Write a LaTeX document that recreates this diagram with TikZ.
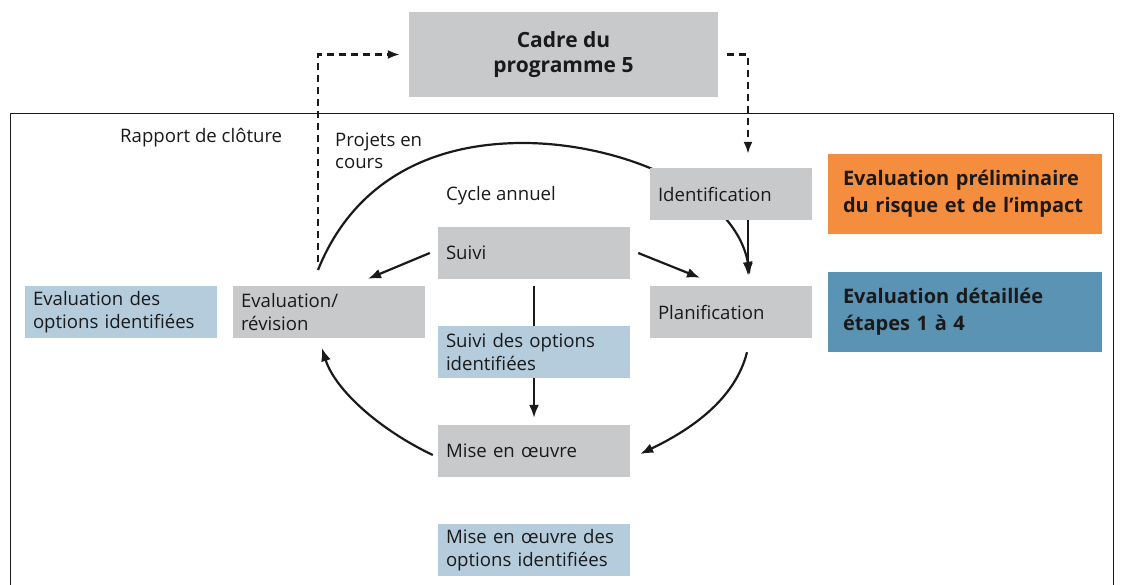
\documentclass[tikz,border=0pt]{standalone}
\usepackage{fontspec}
\setmainfont{Open Sans}
\usetikzlibrary{arrows.meta}
\pgfdeclarelayer{background}
\pgfsetlayers{background,main}
\definecolor{boxgrey}{HTML}{C8C9CB}
\definecolor{lightblue}{HTML}{B5CCDD}
\definecolor{orangebox}{HTML}{F58D3E}
\definecolor{bluebox}{HTML}{5A93B3}
\definecolor{ink}{HTML}{1A1A1A}
\tikzset{
  every node/.style={text=ink},
  gbox/.style={rectangle, fill=boxgrey, inner xsep=8pt, inner ysep=0pt,
    minimum height=52pt, align=left, font=\fontsize{18.6}{22.5}\selectfont},
  bbox/.style={gbox, fill=lightblue},
  bigbox/.style={rectangle, inner xsep=12pt, inner ysep=0pt, minimum height=80pt,
    text width=250pt, align=left, font=\bfseries\fontsize{20}{27}\selectfont},
  lab/.style={inner sep=0pt, font=\fontsize{18.6}{22.5}\selectfont, align=left},
  conn/.style={draw=ink, line width=2.2pt, -{Latex[length=13pt,width=10pt]}},
  dconn/.style={draw=ink, line width=2.2pt, dash pattern=on 7pt off 5pt, -{Latex[length=12pt,width=9pt]}}
}
\begin{document}
\begin{tikzpicture}[x=1pt,y=-1pt]
\useasboundingbox (0,0) rectangle (1123,585);
% frame
\draw[line width=1pt, draw=ink] (10,585) -- (10,114) -- (1113,114) -- (1113,585);
% nodes
\node[rectangle, fill=boxgrey, minimum width=309pt, minimum height=85pt, align=center,
  font=\bfseries\fontsize{21}{25}\selectfont] (cadre) at (563.5,54.5) {Cadre du\\programme 5};
\node[gbox, text width=146pt] (ident) at (731,194) {Identification};
\node[gbox, text width=146pt] (plan) at (731,312) {Planification};
\node[gbox, text width=176pt] (suivi) at (534,253) {Suivi};
\node[bbox, text width=176pt] (suivio) at (534,352) {Suivi des options\\identifiées};
\node[gbox, text width=176pt] (mise) at (534,451) {Mise en œuvre};
\node[bbox, text width=176pt] (miseo) at (534,550) {Mise en œuvre des\\options identifiées};
\node[gbox, text width=176pt] (eval) at (329,312) {Evaluation/\\révision};
\node[bbox, text width=176pt] (evalo) at (121,312) {Evaluation des\\options identifiées};
\node[bigbox, fill=orangebox] (prelim) at (965,194) {\hspace*{3pt}Evaluation préliminaire\\\hspace*{3pt}du risque et de l’impact};
\node[bigbox, fill=bluebox] (detail) at (965,312) {\hspace*{3pt}Evaluation détaillée\\\hspace*{3pt}étapes 1 à 4};
% labels
\node[lab, anchor=base west] (rapport) at (120,143) {Rapport de clôture};
\node[lab, anchor=west] (projets) at (335,151) {Projets en\\cours};
\node[lab, anchor=base west] (cycle) at (446,201) {Cycle annuel};
% coordinates
\coordinate (dstart) at (318,262);
\coordinate (arcS) at (318,270);
\coordinate (arcTop) at (523,143);
\begin{pgfonlayer}{background}
% dashed links to and from the programme frame
\draw[dconn] (dstart) |- ([xshift=-9pt]cadre.west);
\draw[dconn] ([xshift=9pt]cadre.east) -| ([xshift=17pt,yshift=14pt]ident.north);
% big arc
\draw[conn] (arcS) .. controls (350,190) and (420,143) .. (arcTop)
  .. controls (620,143) and (735,190) .. ([xshift=19pt,yshift=11pt]plan.north);
% straight arrows
\draw[conn] ([xshift=17pt]ident.south) -- ([xshift=17pt,yshift=10pt]plan.north);
\draw[conn] ([xshift=-8pt]suivi.west) -- ([xshift=39pt,yshift=7pt]eval.north);
\draw[conn] ([xshift=8pt]suivi.east) -- ([xshift=-31pt,yshift=8pt]plan.north);
\draw[conn] ([yshift=-7pt]suivi.south) -- ([yshift=7pt]mise.north);
% lower arcs
\draw[conn] ([xshift=16pt,yshift=-14pt]plan.south) .. controls (735,400) and (690,430) .. ([xshift=10pt,yshift=-3pt]mise.east);
\draw[conn] ([xshift=-5pt,yshift=-4pt]mise.west) .. controls (380,430) and (335,390) .. ([xshift=-7pt,yshift=-10pt]eval.south);
\end{pgfonlayer}
\end{tikzpicture}
\end{document}
